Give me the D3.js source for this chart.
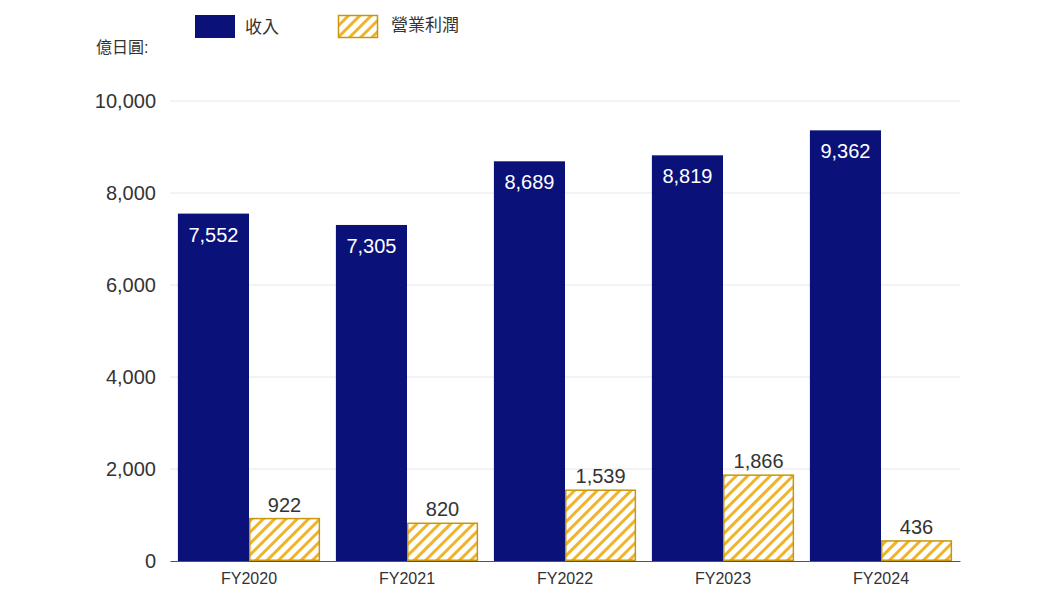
<!DOCTYPE html>
<html><head><meta charset="utf-8">
<script src="https://cdn.jsdelivr.net/npm/d3@7"></script>
<style>body{margin:0;background:#fff;font-family:"Liberation Sans","Noto Sans CJK TC",sans-serif;}</style>
</head><body><svg id="chart" width="1042" height="603"></svg>
<script>
const categories = ["FY2020", "FY2021", "FY2022", "FY2023", "FY2024"];
const revenue = [7552, 7305, 8689, 8819, 9362];
const profit = [922, 820, 1539, 1866, 436];
const yTicks = [0, 2000, 4000, 6000, 8000, 10000];

const svg = d3.select("#chart");
const margin = { left: 170, right: 82, top: 101, bottom: 42 };
const width = 1042 - margin.left - margin.right;
const height = 603 - margin.top - margin.bottom;
const fmt = d3.format(",");

const defs = svg.append("defs");
const pat = defs.append("pattern").attr("id", "hatch")
  .attr("patternUnits", "userSpaceOnUse").attr("width", 8).attr("height", 8)
  .attr("patternTransform", "rotate(45)");
pat.append("rect").attr("width", 8).attr("height", 8).attr("fill", "#fff");
pat.append("rect").attr("width", 3).attr("height", 8).attr("fill", "#f0b42c");

const g = svg.append("g").attr("transform", `translate(${margin.left},${margin.top})`);
const x = d3.scaleBand().domain(categories).range([0, width]).paddingInner(0.1).paddingOuter(0.05);
const y = d3.scaleLinear().domain([0, 10000]).range([height, 0]);

g.selectAll(".grid").data(yTicks.slice(1)).enter().append("line")
  .attr("x1", 0).attr("x2", width).attr("y1", d => y(d)).attr("y2", d => y(d))
  .attr("stroke", "#e6e6e6");

const yAxis = g.append("g").call(d3.axisLeft(y).tickValues(yTicks).tickFormat(fmt).tickSize(0).tickPadding(14));
yAxis.select(".domain").remove();
yAxis.selectAll("text").attr("font-size", 20).attr("fill", "#333");

const xAxis = g.append("g").attr("transform", `translate(0,${height})`)
  .call(d3.axisBottom(x).tickSize(0).tickPadding(12));
xAxis.select(".domain").attr("stroke", "#555");
xAxis.selectAll("text").attr("font-size", 16).attr("fill", "#333");

const bw = x.bandwidth() / 2;
g.selectAll(".rev").data(categories).enter().append("rect")
  .attr("x", d => x(d)).attr("width", bw)
  .attr("y", (d, i) => y(revenue[i])).attr("height", (d, i) => height - y(revenue[i]))
  .attr("fill", "#0a1178");
g.selectAll(".revl").data(categories).enter().append("text")
  .attr("x", d => x(d) + bw / 2).attr("y", (d, i) => y(revenue[i]) + 28)
  .attr("text-anchor", "middle").attr("fill", "#fff").attr("font-size", 20)
  .text((d, i) => fmt(revenue[i]));

g.selectAll(".pro").data(categories).enter().append("rect")
  .attr("x", d => x(d) + bw + 0.75).attr("width", bw - 1.5)
  .attr("y", (d, i) => y(profit[i])).attr("height", (d, i) => height - y(profit[i]) - 0.75)
  .attr("fill", "url(#hatch)").attr("stroke", "#c8960c").attr("stroke-width", 1.5);
g.selectAll(".prol").data(categories).enter().append("text")
  .attr("x", d => x(d) + bw * 1.5).attr("y", (d, i) => y(profit[i]) - 7)
  .attr("text-anchor", "middle").attr("fill", "#333").attr("font-size", 20)
  .text((d, i) => fmt(profit[i]));

svg.append("text").attr("x", 96).attr("y", 53).attr("font-size", 16).attr("fill", "#333").text("億日圓:");
svg.append("rect").attr("x", 195).attr("y", 15).attr("width", 40).attr("height", 23).attr("fill", "#0a1178");
svg.append("text").attr("x", 245).attr("y", 33).attr("font-size", 17).attr("fill", "#333").text("收入");
svg.append("rect").attr("x", 338.5).attr("y", 15.5).attr("width", 39).attr("height", 22)
  .attr("fill", "url(#hatch)").attr("stroke", "#c8960c").attr("stroke-width", 1.5);
svg.append("text").attr("x", 391).attr("y", 31).attr("font-size", 17).attr("fill", "#333").text("營業利潤");
</script></body></html>
